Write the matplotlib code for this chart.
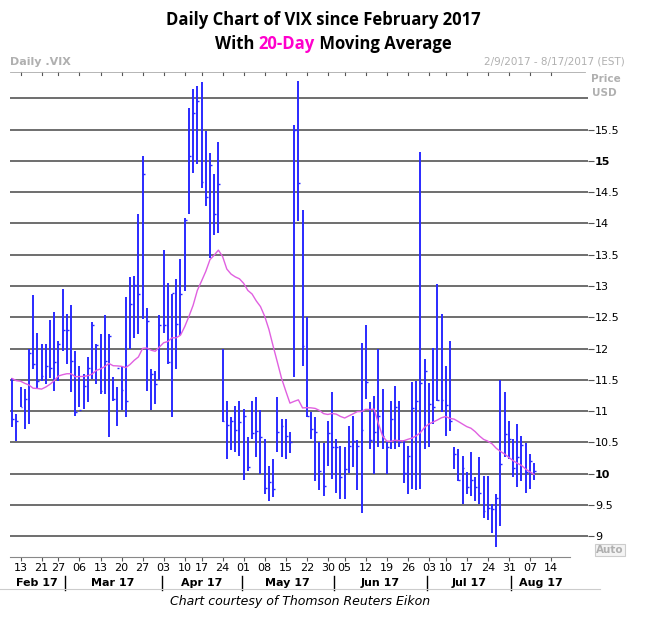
import matplotlib.pyplot as plt
import numpy as np
import pandas as pd

# Dati (barre giornaliere VIX, 9 feb - 8 ago 2017)
highs = [11.53, 10.95, 11.38, 11.35, 11.99, 12.85, 12.25, 12.07, 12.07, 12.46,
         12.59, 12.12, 12.95, 12.56, 12.69, 11.96, 11.72, 11.59, 11.87, 12.43,
         12.08, 12.23, 12.53, 12.24, 11.55, 11.38, 11.71, 12.83, 13.15, 13.16,
         14.15, 15.08, 12.65, 11.68, 11.64, 12.53, 13.58, 13.05, 12.88, 13.11,
         13.43, 14.09, 15.85, 16.15, 16.20, 16.26, 15.48, 15.13, 14.79, 15.30,
         12.00, 11.16, 10.90, 11.08, 11.16, 11.04, 10.59, 11.16, 11.23, 11.02,
         10.55, 10.13, 10.24, 11.23, 10.87, 10.87, 10.67, 15.57, 16.28, 14.22,
         12.51, 10.99, 10.90, 10.50, 10.49, 10.84, 11.31, 10.55, 10.45, 10.43,
         10.76, 10.93, 10.54, 12.09, 12.37, 11.14, 11.25, 12.00, 11.35, 10.50,
         11.16, 11.40, 11.16, 10.54, 10.44, 11.47, 11.48, 15.14, 11.84, 11.45,
         12.01, 13.03, 12.55, 11.72, 12.12, 10.42, 10.40, 10.28, 10.03, 10.34,
         9.95, 10.27, 9.97, 9.96, 9.51, 9.67, 11.50, 11.30, 10.84, 10.56,
         10.80, 10.60, 10.49, 10.31, 10.18]
lows = [10.74, 10.53, 11.06, 10.72, 10.79, 11.68, 11.35, 11.48, 11.43, 11.53,
        11.33, 11.48, 11.96, 11.76, 11.31, 10.93, 11.06, 11.03, 11.15, 11.51,
        11.44, 11.28, 11.28, 10.59, 11.16, 10.77, 11.02, 10.91, 11.99, 12.17,
        12.24, 12.47, 11.33, 11.02, 11.11, 11.50, 12.25, 11.76, 10.90, 11.68,
        12.21, 12.92, 14.15, 14.80, 14.95, 14.57, 14.28, 13.44, 13.81, 13.84,
        10.83, 10.23, 10.38, 10.34, 10.28, 9.90, 10.04, 10.55, 10.27, 9.99,
        9.67, 9.56, 9.63, 10.34, 10.26, 10.24, 10.33, 11.54, 14.04, 11.72,
        10.90, 10.56, 9.88, 9.74, 9.64, 10.12, 9.92, 9.69, 9.59, 9.60,
        10.02, 10.11, 9.74, 9.37, 11.19, 10.40, 10.00, 10.43, 10.40, 10.00,
        10.39, 10.40, 10.42, 9.85, 9.67, 9.75, 9.74, 9.75, 10.40, 10.43,
        10.79, 11.16, 10.98, 10.60, 10.68, 10.08, 9.88, 9.51, 9.67, 9.64,
        9.56, 9.51, 9.30, 9.26, 9.05, 8.83, 9.16, 10.26, 10.23, 9.95,
        9.79, 9.88, 9.69, 9.75, 9.90]
closes = [10.87, 10.84, 11.06, 11.20, 11.93, 11.75, 11.48, 11.56, 11.73, 11.69,
          11.78, 12.07, 12.30, 12.30, 11.80, 10.99, 11.02, 11.41, 11.69, 12.38,
          12.05, 11.33, 11.80, 12.20, 11.20, 11.69, 11.34, 11.16, 12.72, 13.02,
          12.87, 14.79, 12.44, 11.60, 11.44, 12.37, 12.38, 11.79, 12.89, 12.39,
          12.87, 14.05, 15.07, 15.77, 15.96, 14.66, 14.42, 14.93, 14.15, 14.63,
          10.84, 10.78, 10.84, 10.70, 10.82, 10.92, 10.11, 10.65, 10.68, 10.58,
          9.77, 9.87, 9.75, 10.66, 10.77, 10.61, 10.51, 15.50, 14.64, 12.04,
          10.93, 10.72, 10.66, 10.04, 9.81, 10.65, 10.43, 10.43, 9.95, 10.08,
          10.45, 10.53, 10.45, 10.70, 11.46, 10.54, 10.66, 10.92, 10.60, 10.42,
          10.88, 11.06, 10.50, 10.02, 10.28, 11.05, 11.16, 11.45, 11.65, 11.12,
          11.07, 11.18, 11.18, 11.10, 10.85, 10.31, 9.90, 10.10, 9.79, 9.90,
          9.79, 9.69, 9.40, 9.45, 9.44, 9.62, 10.15, 10.63, 10.55, 10.09,
          10.26, 10.46, 10.03, 10.20, 10.04]
# chiusure precedenti (12 gen - 8 feb) per la media mobile a 20 giorni
prev_closes = [11.54, 11.23, 11.87, 12.48, 12.78, 11.54, 11.77, 11.07, 10.81, 10.63,
               10.58, 11.88, 11.99, 11.81, 11.93, 10.97, 11.37, 11.45, 11.88]

week_ticks = ['13', '21', '27', '06', '13', '20', '27', '03', '10', '17', '24', '01', '08',
              '15', '22', '30', '05', '12', '19', '26', '03', '10', '17', '24', '31', '07', '14']
week_dates = ['2017-02-13', '2017-02-21', '2017-02-27', '2017-03-06', '2017-03-13', '2017-03-20',
              '2017-03-27', '2017-04-03', '2017-04-10', '2017-04-17', '2017-04-24', '2017-05-01',
              '2017-05-08', '2017-05-15', '2017-05-22', '2017-05-30', '2017-06-05', '2017-06-12',
              '2017-06-19', '2017-06-26', '2017-07-03', '2017-07-10', '2017-07-17', '2017-07-24',
              '2017-07-31', '2017-08-07', '2017-08-14']
months = ['Feb 17', 'Mar 17', 'Apr 17', 'May 17', 'Jun 17', 'Jul 17', 'Aug 17']
month_starts = ['2017-03-01', '2017-04-03', '2017-05-01', '2017-06-01', '2017-07-03', '2017-08-01']

# Giorni di borsa
holidays = pd.to_datetime(['2017-02-20', '2017-04-14', '2017-05-29', '2017-07-04'])
days = pd.bdate_range('2017-02-09', '2017-08-18')
days = days[~days.isin(holidays)]
pos = {d: i for i, d in enumerate(days)}
n = len(closes)
x = np.arange(n)

ma = pd.Series(prev_closes + closes).rolling(20).mean().values[-n:]

fig = plt.figure(figsize=(6.46, 6.24), dpi=100)
ax = fig.add_axes([10 / 646, 1 - 557 / 624, 578 / 646, 485 / 624])
ax.set_xlim(-0.5, 136.8)
ax.set_ylim(8.67, 16.42)

blue = '#2a2aff'
grid_lev = np.arange(9, 16.01, 0.5)
for g in grid_lev:
    ax.axhline(g, color='#555555', lw=1.2, zorder=1)

ax.vlines(x, lows, highs, color=blue, lw=1.4, zorder=3)
ax.hlines(closes, x, x + 0.45, color=blue, lw=1.0, zorder=3)
ax.plot(x, ma, color='#e060e0', lw=1.0, zorder=4)

for s in ['left', 'right', 'top']:
    ax.spines[s].set_visible(False)
ax.spines['bottom'].set_color('#888888')
ax.spines['bottom'].set_bounds(-0.5, 132.5)

ax.yaxis.tick_right()
yt = grid_lev[:-1]
ax.set_yticks(yt)
ax.set_yticklabels(['%g' % v for v in yt], fontsize=8, fontfamily='DejaVu Sans')
for lbl, v in zip(ax.get_yticklabels(), yt):
    if v in (10, 15):
        lbl.set_fontweight('bold')
ax.tick_params(axis='y', length=4, color='#555555', pad=1)

wpos = [pos[pd.Timestamp(d)] for d in week_dates]
ax.set_xticks(wpos)
ax.set_xticklabels(week_ticks, fontsize=8)
ax.tick_params(axis='x', length=3, color='#555555', pad=1)
for p in wpos:
    ax.plot([p, p], [16.42, 16.37], color='#555555', lw=0.8, clip_on=False)
ax.plot([-0.5, 136], [16.42, 16.42], color='#aaaaaa', lw=0.6, clip_on=False)

# Etichette dei mesi
bounds = [-0.5] + [pos[pd.Timestamp(d)] - 0.5 for d in month_starts] + [132.5]
for k, m in enumerate(months):
    ax.text((bounds[k] + bounds[k + 1]) / 2, -0.054, m, transform=ax.get_xaxis_transform(),
            ha='center', va='center', fontsize=8, fontweight='bold')
for b in bounds[1:-1]:
    ax.plot([b, b], [-0.04, -0.068], transform=ax.get_xaxis_transform(), color='black',
            lw=1, clip_on=False)

gray = '#b0b0b0'
fig.text(10 / 646, 1 - 62 / 624, 'Daily .VIX', color=gray, fontsize=8, fontweight='bold', va='center')
fig.text(625 / 646, 1 - 62 / 624, '2/9/2017 - 8/17/2017 (EST)', color=gray, fontsize=7.5,
         ha='right', va='center')
fig.text(621 / 646, 1 - 79 / 624, 'Price', color=gray, fontsize=7.5, fontweight='bold',
         ha='right', va='center')
fig.text(617 / 646, 1 - 93 / 624, 'USD', color=gray, fontsize=7.5, fontweight='bold',
         ha='right', va='center')
fig.text(610 / 646, 1 - 550 / 624, 'Auto', color=gray, fontsize=7.5, fontweight='bold',
         ha='center', va='center',
         bbox=dict(boxstyle='square,pad=0.1', fc='#f4f4f4', ec='#cccccc', lw=0.8))

# Titolo
fig.text(0.5, 1 - 20 / 624, 'Daily Chart of VIX since February 2017', ha='center',
         va='center', fontsize=12, fontweight='bold', fontfamily='Open Sans')
tfs = dict(fontsize=12, fontweight='bold', fontfamily='Open Sans', va='center')
fig.canvas.draw()
r = fig.canvas.get_renderer()
part1 = fig.text(0, 1 - 44 / 624, 'With ', **tfs)
part2 = fig.text(0, 1 - 44 / 624, '20-Day', color='#ff00cc', **tfs)
part3 = fig.text(0, 1 - 44 / 624, ' Moving Average', **tfs)
ws = [p.get_window_extent(r).width for p in (part1, part2, part3)]
start = (646 - sum(ws)) / 2 + 10
for p, w in zip((part1, part2, part3), ws):
    p.set_x(start / 646)
    start += w

fig.add_artist(plt.Line2D([0, 600 / 646], [1 - 589 / 624] * 2, color='#cccccc', lw=0.8))
fig.text(300 / 646, 1 - 601 / 624, 'Chart courtesy of Thomson Reuters Eikon', ha='center',
         va='center', fontsize=9, style='italic')

fig.savefig('out.png', dpi=100, facecolor='white')
